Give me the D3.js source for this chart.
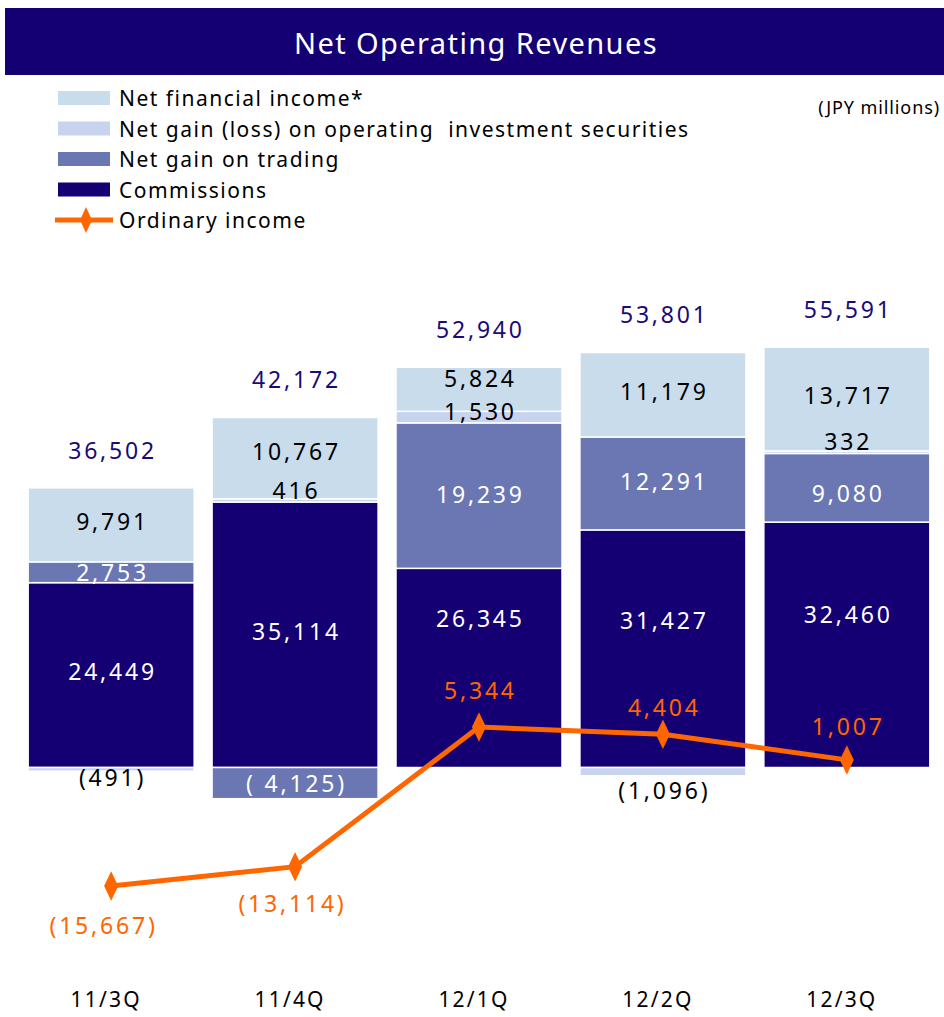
<!DOCTYPE html>
<html><head><meta charset="utf-8">
<script src="https://cdn.jsdelivr.net/npm/d3@7"></script>
<style>
html,body{margin:0;padding:0;background:#fff;}
svg{display:block;font-family:"Noto Sans",sans-serif;}
text{white-space:pre;}
</style></head>
<body><svg id="chart" width="944" height="1017"></svg>
<script>
// ---- data ----
const categories = ["11/3Q","11/4Q","12/1Q","12/2Q","12/3Q"];
const commissions = [24449, 35114, 26345, 31427, 32460];
const netGainTrading = [2753, -4125, 19239, 12291, 9080];
const netGainInvestment = [-491, 416, 1530, -1096, 332];
const netFinancialIncome = [9791, 10767, 5824, 11179, 13717];
const totals = [36502, 42172, 52940, 53801, 55591];
const ordinaryIncome = [-15667, -13114, 5344, 4404, 1007];
const seriesNames = ["Net financial income*", "Net gain (loss) on operating  investment securities", "Net gain on trading", "Commissions", "Ordinary income"];

// ---- styling / layout ----
const colors = {
  commissions: "#150073",
  trading: "#6a77b3",
  investment: "#c8d3ee",
  financial: "#c9dcec",
  ordinary: "#ff6600",
  title: "#150073",
  total: "#1a0a78"
};
const svg = d3.select("#chart");
const W = 944;

// title band
svg.append("rect").attr("x",5).attr("y",8).attr("width",W-5).attr("height",67).attr("fill",colors.title);
svg.append("text").attr("x",476).attr("y",42).attr("text-anchor","middle").attr("dominant-baseline","central")
  .attr("fill","#fff").attr("font-size",29).attr("letter-spacing",1.4).text("Net Operating Revenues");

svg.append("text").attr("x",940).attr("y",107).attr("text-anchor","end").attr("dominant-baseline","central")
  .attr("font-size",18).attr("letter-spacing",0.9).attr("fill","#000").text("(JPY millions)");

// legend
const legendColors = [colors.financial, colors.investment, colors.trading, colors.commissions];
const lg = svg.append("g");
seriesNames.forEach((name,i)=>{
  const cy = 98 + i*30.5;
  if (i < 4) {
    lg.append("rect").attr("x",58).attr("y",cy-7).attr("width",52).attr("height",14).attr("fill",legendColors[i]);
  } else {
    lg.append("line").attr("x1",55).attr("x2",113).attr("y1",cy).attr("y2",cy).attr("stroke",colors.ordinary).attr("stroke-width",5);
    lg.append("path").attr("d",d3.symbol(d3.symbolDiamond,150)()).attr("transform",`translate(86,${cy}) scale(0.9,1.15)`).attr("fill",colors.ordinary);
  }
  lg.append("text").attr("x",119).attr("y",cy).attr("dominant-baseline","central").attr("font-size",21)
    .attr("letter-spacing",1.5).attr("fill","#000").attr("xml:space","preserve").text(name);
});

// scales
const x = d3.scaleBand().domain(categories).range([19, 939]).paddingInner(0.0978).paddingOuter(0.05);
const k = 0.00756, zeroY = 767.5;
const y = d3.scaleLinear().domain([-20000, 60000]).range([zeroY + 20000*k, zeroY - 60000*k]);

// stacked data
const keys = ["commissions","trading","investment","financial"];
const rows = categories.map((c,i)=>({cat:c, commissions:commissions[i], trading:netGainTrading[i], investment:netGainInvestment[i], financial:netFinancialIncome[i]}));
const stack = d3.stack().keys(keys).offset(d3.stackOffsetDiverging);
const layers = stack(rows);

const bw = 166;
const barX = c => x(c) + x.bandwidth()/2 - bw/2;

const gBars = svg.append("g");
layers.forEach(layer=>{
  gBars.selectAll(null).data(layer).enter().append("rect")
    .attr("x", d=>barX(d.data.cat))
    .attr("width", bw)
    .attr("y", d=>y(Math.max(d[0],d[1])))
    .attr("height", d=>Math.abs(y(d[0])-y(d[1])))
    .attr("fill", colors[layer.key])
    .attr("stroke","#fff").attr("stroke-width",1.5);
});

// segment labels
const fmt = d3.format(",");
const labelColor = {commissions:"#fff", trading:"#fff", investment:"#000", financial:"#000"};
// per-label vertical nudges (layout)
const nudge = {
  commissions:[-4,-4,-50,-29,-31],
  trading:[0,0,-2,-2,5],
  investment:[8,-10,-6,18,-11],
  financial:[-4,-7,-11,-4,-4]
};
const gLab = svg.append("g").attr("font-size",23).attr("letter-spacing",2.8);
layers.forEach(layer=>{
  layer.forEach((d,i)=>{
    const v = d.data[layer.key];
    const cy = (y(d[0])+y(d[1]))/2 + nudge[layer.key][i];
    let txt = v < 0 ? "(" + (layer.key==="trading" ? " " : "") + fmt(-v) + ")" : fmt(v);
    const col = (v < 0 && layer.key==="investment") ? "#000" : labelColor[layer.key];
    gLab.append("text").attr("x", x(d.data.cat)+x.bandwidth()/2 + 1.4).attr("y", cy)
      .attr("text-anchor","middle").attr("dominant-baseline","central").attr("fill",col).text(txt);
  });
});

// totals
gLab.selectAll(null).data(categories).enter().append("text")
  .attr("x", c=>x(c)+x.bandwidth()/2+1.4)
  .attr("y", (c,i)=>{ const top = d3.min(layers, L=>y(Math.max(L[i][0],L[i][1]))); return top - 38; })
  .attr("text-anchor","middle").attr("dominant-baseline","central").attr("fill",colors.total)
  .text((c,i)=>fmt(totals[i]));

// ordinary income line
const cx = c => x(c)+x.bandwidth()/2;
const line = d3.line().x((v,i)=>cx(categories[i])).y(v=>y(v));
svg.append("path").datum(ordinaryIncome).attr("d",line).attr("fill","none")
  .attr("stroke",colors.ordinary).attr("stroke-width",5);
svg.selectAll(null).data(ordinaryIncome).enter().append("path")
  .attr("d",d3.symbol(d3.symbolDiamond,190)())
  .attr("transform",(v,i)=>`translate(${cx(categories[i])},${y(v)}) scale(0.95,1.15)`)
  .attr("fill",colors.ordinary);
const ordNudge = [39, 36, -37, -27, -34];
const ordDx = [-9, -4, 0, 0, 0];
svg.append("g").attr("font-size",23).attr("letter-spacing",2.8)
  .selectAll(null).data(ordinaryIncome).enter().append("text")
  .attr("x",(v,i)=>cx(categories[i])+1.4+ordDx[i])
  .attr("y",(v,i)=>y(v)+ordNudge[i])
  .attr("text-anchor","middle").attr("dominant-baseline","central").attr("fill",colors.ordinary)
  .text(v=> v<0 ? "(" + fmt(-v) + ")" : fmt(v));

// category axis labels
const xAxis = d3.axisBottom(x).tickSize(0).tickPadding(0);
const ga = svg.append("g").attr("transform","translate(-5,988)").call(xAxis);
ga.select(".domain").remove();
ga.selectAll("text").attr("font-size",21).attr("letter-spacing",2.2).attr("fill","#000")
  .attr("font-family","'Noto Sans',sans-serif").attr("dy","0.35em").attr("y",12);
</script>
</body></html>
